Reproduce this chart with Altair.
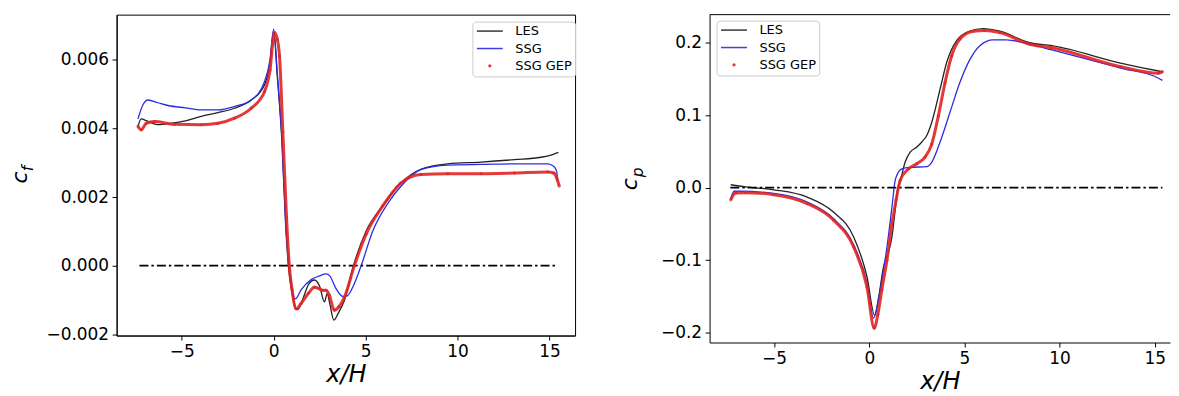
import altair as alt
import pandas as pd

SERIES = ["LES", "SSG", "SSG GEP"]
COLORS = ["#222222", "#2b2be6", "#e02424"]
FONT = "DejaVu Sans"

# ---------------- left panel: skin friction c_f ----------------
cf_les_x = [-7.38, -7.2, -6.9, -6.3, -5.6, -4.8, -3.94, -3.03, -2.13, -1.22, -0.5, -0.2, 0.0, 0.2, 0.45,
            0.65, 0.8, 1.0, 1.31, 1.6, 1.9, 2.22, 2.5, 2.76, 2.91, 3.05, 3.27, 3.5, 3.85, 4.34, 5.03,
            5.93, 6.9, 8.0, 9.47, 11.28, 13.09, 14.54, 15.17, 15.48]
cf_les_y = [0.00406, 0.00428, 0.00422, 0.00411, 0.00415, 0.00422, 0.00435, 0.00446, 0.00459, 0.00483,
            0.00527, 0.0059, 0.0068, 0.0055, 0.0036, 0.0012, 0.0, -0.0008, -0.00128, -0.00095, -0.00055,
            -0.00042, -0.0006, -0.00106, -0.00082, -0.0011, -0.00159, -0.0014, -0.00101, 0.0, 0.00101,
            0.00174, 0.0024, 0.00281, 0.00297, 0.00302, 0.00309, 0.00316, 0.00324, 0.0033]

cf_ssg_x = [-7.38, -7.1, -6.84, -6.3, -5.75, -4.8, -3.94, -3.03, -2.13, -1.22, -0.5, -0.2, 0.0, 0.2, 0.45,
            0.65, 0.83, 1.0, 1.18, 1.5, 2.04, 2.5, 2.85, 3.05, 3.4, 3.76, 4.0, 4.3, 4.76, 5.39, 6.29, 6.9,
            8.0, 9.47, 11.28, 13.09, 14.9, 15.23, 15.39, 15.45]
cf_ssg_y = [0.00428, 0.0047, 0.00483, 0.00475, 0.00467, 0.0046, 0.00454, 0.00454, 0.00464, 0.00483,
            0.00536, 0.006, 0.0069, 0.0056, 0.0037, 0.0013, 0.0, -0.0007, -0.00097, -0.0007, -0.00041,
            -0.0003, -0.00024, -0.0003, -0.00068, -0.0009, -0.00088, -0.00063, 0.0, 0.00101, 0.00188,
            0.0023, 0.0028, 0.00293, 0.00295, 0.00297, 0.00297, 0.0029, 0.00275, 0.00246]

cf_gep_x = [-7.38, -7.2, -6.93, -6.48, -5.39, -3.94, -3.03, -2.13, -1.22, -0.5, -0.2, 0.04, 0.2, 0.32, 0.5,
            0.7, 0.85, 1.0, 1.22, 1.5, 1.9, 2.22, 2.5, 2.67, 2.85, 3.03, 3.3, 3.55, 3.85, 4.39, 5.03, 5.93,
            6.9, 8.0, 9.47, 11.28, 13.09, 14.9, 15.23, 15.39, 15.53]
cf_gep_y = [0.00406, 0.00396, 0.00415, 0.0042, 0.00412, 0.00411, 0.00415, 0.0043, 0.00459, 0.00507,
            0.0057, 0.0068, 0.0066, 0.0061, 0.0039, 0.0014, 0.0, -0.0007, -0.00126, -0.0011, -0.0008,
            -0.00063, -0.00068, -0.00072, -0.00072, -0.00087, -0.0013, -0.0012, -0.00092, 0.0, 0.00092,
            0.00174, 0.0024, 0.00266, 0.00268, 0.00268, 0.0027, 0.00273, 0.0027, 0.00256, 0.00232]

# ---------------- right panel: pressure coefficient c_p ----------------
cp_les_x = [-7.28, -6.5, -5.01, -3.26, -1.87, -0.82, -0.12, 0.28, 0.5, 0.75, 1.01, 1.19, 1.36, 1.48, 1.62,
            1.88, 2.15, 2.5, 2.76, 3.02, 3.28, 3.72, 4.07, 4.59, 5.29, 5.98, 6.86, 8.43, 9.6, 13.2, 15.2, 15.4]
cp_les_y = [0.004, 0.001, -0.003, -0.013, -0.034, -0.068, -0.123, -0.176, -0.15, -0.109, -0.089, -0.068,
            -0.031, -0.004, 0.008, 0.035, 0.049, 0.056, 0.063, 0.072, 0.09, 0.136, 0.173, 0.203, 0.216,
            0.2195, 0.216, 0.2, 0.196, 0.172, 0.161, 0.16]

cp_ssg_x = [-7.28, -7.1, -6.75, -5.01, -3.26, -1.87, -0.82, -0.12, 0.23, 0.45, 0.66, 0.93, 1.19, 1.36, 1.45,
            1.71, 2.15, 3.02, 3.28, 3.72, 4.24, 4.76, 5.29, 5.81, 6.51, 7.21, 8.43, 9.6, 13.2, 15.2, 15.4]
cp_ssg_y = [-0.015, -0.005, -0.005, -0.008, -0.02, -0.043, -0.079, -0.132, -0.18, -0.16, -0.128, -0.082,
            -0.027, 0.01, 0.017, 0.026, 0.028, 0.029, 0.035, 0.063, 0.104, 0.145, 0.177, 0.196, 0.204,
            0.204, 0.198, 0.19, 0.165, 0.151, 0.148]

cp_gep_x = [-7.28, -7.02, -6.5, -5.01, -3.26, -1.87, -0.82, -0.12, 0.26, 0.45, 0.66, 0.93, 1.19, 1.41, 1.62,
            2.06, 2.5, 2.93, 3.28, 3.63, 3.98, 4.33, 4.76, 5.46, 6.07, 6.86, 8.43, 9.6, 13.2, 15.2, 15.4]
cp_gep_y = [-0.017, -0.0074, -0.007, -0.0097, -0.022, -0.045, -0.082, -0.137, -0.194, -0.175, -0.141, -0.1,
            -0.05, -0.017, 0.01, 0.026, 0.033, 0.042, 0.06, 0.099, 0.145, 0.182, 0.205, 0.216, 0.217,
            0.214, 0.198, 0.193, 0.167, 0.158, 0.16]

zero_line_x = [-7.3, 15.4]
zero_line_y = [0.0]

x_ticks = [-5, 0, 5, 10, 15]
cf_ticks = [-0.002, 0.0, 0.002, 0.004, 0.006]
cp_ticks = [-0.2, -0.1, 0.0, 0.1, 0.2]

LINE_SYMBOL = "M-2.6,0H2.6"


def long_frame(parts):
    return pd.concat(
        [pd.DataFrame({"x": xs, "y": ys, "series": name}) for xs, ys, name in parts],
        ignore_index=True,
    )


cf_df = long_frame([(cf_les_x, cf_les_y, "LES"), (cf_ssg_x, cf_ssg_y, "SSG"),
                    (cf_gep_x, cf_gep_y, "SSG GEP")])
cp_df = long_frame([(cp_les_x, cp_les_y, "LES"), (cp_ssg_x, cp_ssg_y, "SSG"),
                    (cp_gep_x, cp_gep_y, "SSG GEP")])
zero_df = pd.DataFrame({"x0": [zero_line_x[0]], "x1": [zero_line_x[1]], "y0": zero_line_y})


def panel(df, xdom, ydom, yvals, yfmt, W, H, legx, legy, sym, sub, c_pos, s_pos, full_frame):
    xs = alt.Scale(domain=xdom, nice=False, zero=False)
    ys = alt.Scale(domain=ydom, nice=False, zero=False)
    xenc = alt.X("x:Q", scale=xs,
                 axis=alt.Axis(values=x_ticks, format="d", title="x/H", grid=False))
    yenc = alt.Y("y:Q", scale=ys,
                 axis=alt.Axis(values=yvals, format=yfmt, title=None, grid=False))
    leg = alt.Legend(orient="none", legendX=legx, legendY=legy, title=None)
    color = alt.Color("series:N", scale=alt.Scale(domain=SERIES, range=COLORS), legend=leg)
    shape = alt.Shape("series:N",
                      scale=alt.Scale(domain=SERIES, range=[LINE_SYMBOL, LINE_SYMBOL, "circle"]),
                      legend=leg)
    size = alt.Size("series:N",
                    scale=alt.Scale(type="ordinal", domain=SERIES, range=[100, 100, 3]),
                    legend=leg)

    base = alt.Chart(df)
    thin = base.transform_filter(
        alt.FieldOneOfPredicate(field="series", oneOf=["LES", "SSG"])
    ).mark_line(strokeWidth=1.3, interpolate="monotone").encode(x=xenc, y=yenc, color=color)
    gep_line = base.transform_filter(alt.datum.series == "SSG GEP").mark_line(
        strokeWidth=3, opacity=0.9, interpolate="monotone").encode(x=xenc, y=yenc, color=color)
    gep_pts = base.transform_filter(alt.datum.series == "SSG GEP").mark_point(
        filled=False, strokeWidth=1.5).encode(x=xenc, y=yenc, color=color, shape=shape, size=size)

    zero = alt.Chart(zero_df).mark_rule(
        color="black", strokeWidth=1.8, strokeDash=[9, 3, 2.5, 3]
    ).encode(x=alt.X("x0:Q", scale=xs), x2="x1:Q", y=alt.Y("y0:Q", scale=ys))

    t_main = alt.Chart(pd.DataFrame({"t": [sym]})).mark_text(
        font=FONT, fontSize=22, fontStyle="italic", angle=270, align="center",
        baseline="alphabetic", color="black"
    ).encode(text="t:N", x=alt.value(c_pos[0]), y=alt.value(c_pos[1]))
    t_sub = alt.Chart(pd.DataFrame({"t": [sub]})).mark_text(
        font=FONT, fontSize=15.5, fontStyle="italic", angle=270, align="center",
        baseline="alphabetic", color="black"
    ).encode(text="t:N", x=alt.value(s_pos[0]), y=alt.value(s_pos[1]))

    layers = [thin, zero, gep_line, gep_pts, t_main, t_sub]
    if not full_frame:
        top = alt.Chart(pd.DataFrame({"t": [0]})).mark_rule(color="black", strokeWidth=1).encode(
            x=alt.value(0), x2=alt.value(W), y=alt.value(0))
        layers.append(top)
    ch = alt.layer(*layers).properties(width=W, height=H)
    if not full_frame:
        ch = ch.properties(view=alt.ViewBackground(strokeOpacity=0))
    return ch


left = panel(cf_df, [-8.54, 16.39], [-0.00204, 0.00732], cf_ticks, ".3f", 460, 322,
             357, 7, "c", "f", (-90, 163.5), (-84, 154.5), True)
right = panel(cp_df, [-8.39, 15.8], [-0.2138, 0.2388], cp_ticks, ".1f", 462, 329,
              7, 6, "c", "p", (-72.7, 170.3), (-66.7, 158.3), False)

chart = alt.hconcat(left, right, spacing=43).resolve_scale(
    x="independent", y="independent", color="independent", shape="independent", size="independent"
).resolve_legend(
    color="independent", shape="independent", size="independent"
).properties(
    padding={"left": 0, "top": 5, "right": 0, "bottom": 0}
).configure_view(
    stroke="black", strokeWidth=1
).configure_axis(
    labelFont=FONT, labelFontSize=17, labelColor="black", labelPadding=3.5,
    tickColor="black", tickSize=4.5, tickWidth=1,
    domainColor="black", domainWidth=1,
    titleFont=FONT, titleFontSize=24, titleFontStyle="italic", titleFontWeight="normal",
    titleColor="black", titlePadding=3,
).configure_legend(
    labelFont=FONT, labelFontSize=13, labelColor="black",
    fillColor="rgba(255,255,255,0.85)", strokeColor="#cccccc", cornerRadius=3,
    padding=3, rowPadding=3.5, symbolOffset=8, labelOffset=19, symbolStrokeWidth=1.5,
)

chart.save("out.html", embed_options={"renderer": "svg", "actions": False})
